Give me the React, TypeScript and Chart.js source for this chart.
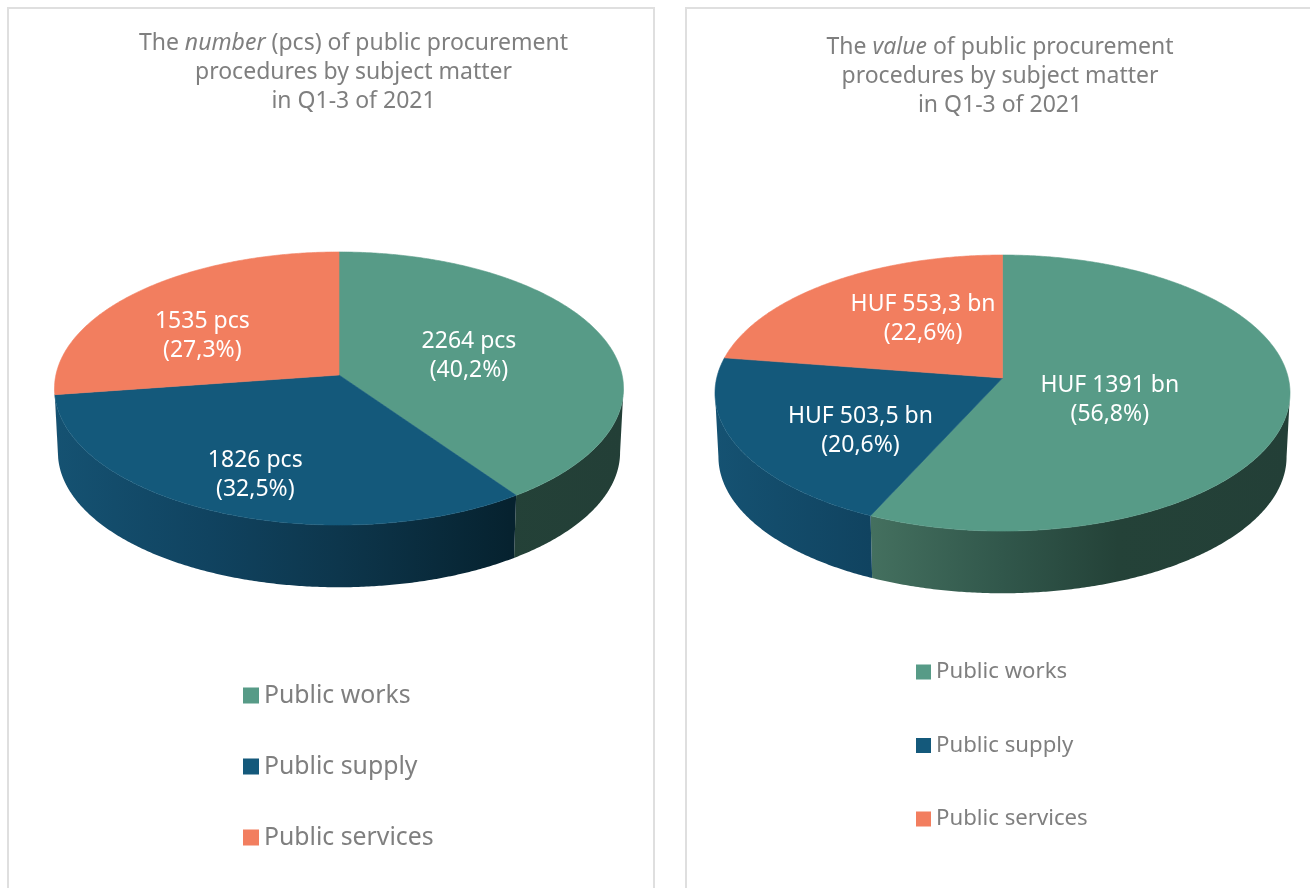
import React, { useEffect, useRef } from "react";
import { Chart, registerables } from "chart.js";

Chart.register(...registerables);

const categories = ["Public works", "Public supply", "Public services"];
const numberValues = [2264, 1826, 1535];
const amountValues = [1391, 503.5, 553.3];
const numberLabels = [
  ["2264 pcs", "(40,2%)"],
  ["1826 pcs", "(32,5%)"],
  ["1535 pcs", "(27,3%)"],
];
const amountLabels = [
  ["HUF 1391 bn", "(56,8%)"],
  ["HUF 503,5 bn", "(20,6%)"],
  ["HUF 553,3 bn", "(22,6%)"],
];
const numberTitle = [
  [["The ", false], ["number", true], [" (pcs) of public procurement", false]],
  [["procedures by subject matter", false]],
  [["in Q1-3 of 2021", false]],
];
const amountTitle = [
  [["The ", false], ["value", true], [" of public procurement", false]],
  [["procedures by subject matter", false]],
  [["in Q1-3 of 2021", false]],
];

const FONT = "'Noto Sans'";
const CANVAS_H = 950;
const topColors = ["#579b87", "#14597b", "#f27e5f"];
const wallStops = [
  [[0, "#4f8170"], [0.27, "#44705f"], [0.5, "#31574b"], [0.7, "#244238"], [1, "#233f37"]],
  [[0, "#155272"], [0.27, "#104360"], [0.5, "#0d364c"], [0.8, "#06222f"], [1, "#06222f"]],
  [[0, "#a8573f"], [1, "#5a2e22"]],
];

type Geo = {
  cx: number; cy: number; a: number; b: number; k: number; depth: number; shrink: number;
  labelNudge: number[][]; labelFont: number; lineGap: number; titleX: number; titleY: number;
};

function project(g: Geo, angle: number, r = 1) {
  const u = r * Math.cos(angle);
  const v = r * Math.sin(angle);
  const w = 1 - g.k * v;
  return { x: g.cx + (g.a * u) / w, y: g.cy + (g.b * v) / w };
}
function projectBase(g: Geo, angle: number) {
  const p = project(g, angle);
  return {
    x: g.cx + (p.x - g.cx) * g.shrink,
    y: g.cy + (p.y - g.cy) * g.shrink + g.depth,
  };
}

const piePlugin = (g: Geo, valueLabels: string[][], title: any[][]) => ({
  id: "perspectivePie",
  beforeDatasetsDraw(chart: any) {
    const ctx: CanvasRenderingContext2D = chart.ctx;
    const arcs = chart.getDatasetMeta(0).data;
    const left = g.cx - g.a * 1.005;
    const right = g.cx + g.a * 1.005;
    const frontStart = Math.asin(g.k);
    const frontEnd = Math.PI - frontStart;
    ctx.save();
    arcs.forEach((arc: any, i: number) => {
      const from = Math.max(arc.startAngle, frontStart);
      const to = Math.min(arc.endAngle, frontEnd);
      if (to <= from) return;
      const grad = ctx.createLinearGradient(left, 0, right, 0);
      wallStops[i].forEach((s: any) => grad.addColorStop(s[0], s[1]));
      ctx.fillStyle = grad;
      ctx.beginPath();
      const n = Math.ceil((to - from) * 120);
      for (let j = 0; j <= n; j++) {
        const p = project(g, from + ((to - from) * j) / n);
        j ? ctx.lineTo(p.x, p.y) : ctx.moveTo(p.x, p.y);
      }
      for (let j = n; j >= 0; j--) {
        const p = projectBase(g, from + ((to - from) * j) / n);
        ctx.lineTo(p.x, p.y);
      }
      ctx.closePath();
      ctx.fill();
    });
    arcs.forEach((arc: any, i: number) => {
      ctx.fillStyle = topColors[i];
      ctx.strokeStyle = topColors[i];
      ctx.lineWidth = 0.6;
      ctx.beginPath();
      ctx.moveTo(g.cx, g.cy);
      const n = Math.ceil((arc.endAngle - arc.startAngle) * 120);
      for (let j = 0; j <= n; j++) {
        const p = project(g, arc.startAngle + ((arc.endAngle - arc.startAngle) * j) / n);
        ctx.lineTo(p.x, p.y);
      }
      ctx.closePath();
      ctx.fill();
      ctx.stroke();
    });
    ctx.restore();
    return false;
  },
  afterDraw(chart: any) {
    const ctx: CanvasRenderingContext2D = chart.ctx;
    const arcs = chart.getDatasetMeta(0).data;
    ctx.save();
    ctx.textAlign = "center";
    ctx.textBaseline = "middle";
    ctx.fillStyle = "#ffffff";
    ctx.font = `${g.labelFont}px ${FONT}`;
    arcs.forEach((arc: any, i: number) => {
      const mid = (arc.startAngle + arc.endAngle) / 2;
      const p = project(g, mid, 0.5);
      const x = p.x + g.labelNudge[i][0];
      const y = p.y + g.labelNudge[i][1];
      ctx.fillText(valueLabels[i][0], x, y - g.lineGap / 2);
      ctx.fillText(valueLabels[i][1], x, y + g.lineGap / 2);
    });
    ctx.fillStyle = "#7f7f7f";
    ctx.textAlign = "left";
    title.forEach((line: any[], li: number) => {
      const fontOf = (it: boolean) => `${it ? "italic " : ""}23px ${FONT}`;
      let w = 0;
      line.forEach(([t, it]) => {
        ctx.font = fontOf(it);
        w += ctx.measureText(t).width;
      });
      let x = g.titleX - w / 2;
      line.forEach(([t, it]) => {
        ctx.font = fontOf(it);
        ctx.fillText(t, x, g.titleY + li * 29);
        x += ctx.measureText(t).width;
      });
    });
    ctx.restore();
  },
});

function PieCard(props: any) {
  const ref = useRef<HTMLCanvasElement | null>(null);
  useEffect(() => {
    const chart = new Chart(ref.current as HTMLCanvasElement, {
      type: "pie",
      data: {
        labels: categories,
        datasets: [{ data: props.values, backgroundColor: topColors, borderWidth: 0 }],
      },
      options: {
        responsive: false,
        animation: false,
        events: [],
        layout: { padding: props.padding },
        plugins: {
          tooltip: { enabled: false },
          title: { display: false },
          legend: {
            position: "left",
            align: "start",
            labels: {
              color: "#7f7f7f",
              font: { family: FONT, size: props.legendFont },
              usePointStyle: true,
              pointStyle: "rect",
              boxWidth: props.legendBoxW,
              boxHeight: props.legendBoxH,
              padding: props.legendGap,
            },
          },
        },
      },
      plugins: [piePlugin(props.geo, props.valueLabels, props.title)],
    } as any);
    return () => chart.destroy();
  }, []);
  return (
    <canvas
      ref={ref}
      width={props.width}
      height={CANVAS_H}
      style={{ position: "absolute", left: props.left, top: 0, width: props.width, height: CANVAS_H }}
    />
  );
}

const panel = (left: number, width: number): React.CSSProperties => ({
  position: "absolute",
  left,
  top: 7,
  width,
  height: 920,
  border: "2px solid #dfdfdf",
  boxSizing: "border-box",
});

export default function App() {
  return (
    <div style={{ position: "fixed", left: 0, top: 0, width: 1310, height: 888, overflow: "hidden", background: "#fff" }}>
      <div style={panel(7, 648)} />
      <div style={panel(685, 700)} />
      <PieCard
        left={0}
        width={670}
        values={numberValues}
        valueLabels={numberLabels}
        title={numberTitle}
        legendFont={24.8}
        legendBoxW={1.2}
        legendBoxH={16}
        legendGap={46.2}
        padding={{ left: 204.2, top: 636.9, right: 0, bottom: 0 }}
        geo={{
          cx: 339, cy: 375, a: 283.1, b: 135.2, k: 0.099, depth: 64, shrink: 0.988,
          labelNudge: [[-3, 1.5], [-25, 34.5], [-33, 3.5]], labelFont: 23, lineGap: 29,
          titleX: 353.5, titleY: 43,
        }}
      />
      <PieCard
        left={670}
        width={640}
        values={amountValues}
        valueLabels={amountLabels}
        title={amountTitle}
        legendFont={22.2}
        legendBoxW={2.8}
        legendBoxH={15}
        legendGap={51.3}
        padding={{ left: 200.8, top: 609.6, right: 0, bottom: 0 }}
        geo={{
          cx: 332.5, cy: 378, a: 285.8, b: 136.4, k: 0.109, depth: 64, shrink: 0.988,
          labelNudge: [[-34, 7.5], [-13, 19.5], [10, -9]], labelFont: 23, lineGap: 29,
          titleX: 330, titleY: 47,
        }}
      />
    </div>
  );
}
